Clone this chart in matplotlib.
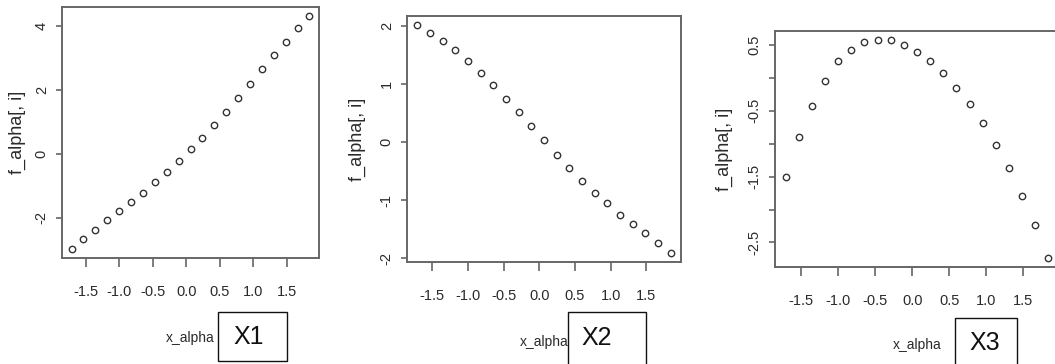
import matplotlib
matplotlib.use("Agg")
import matplotlib.pyplot as plt
from matplotlib.patches import Rectangle

# ---- data ----
x_alpha = [-1.713, -1.535, -1.357, -1.180, -1.002, -0.824, -0.646, -0.468, -0.291, -0.113,
           0.065, 0.243, 0.421, 0.598, 0.776, 0.954, 1.132, 1.310, 1.487, 1.665, 1.843]
f_x1 = [-2.97, -2.66, -2.39, -2.07, -1.78, -1.51, -1.22, -0.87, -0.57, -0.23,
        0.15, 0.49, 0.91, 1.32, 1.74, 2.20, 2.65, 3.10, 3.52, 3.93, 4.31]
f_x2 = [2.01, 1.88, 1.74, 1.58, 1.39, 1.19, 0.98, 0.74, 0.51, 0.27,
        0.03, -0.22, -0.45, -0.67, -0.88, -1.06, -1.25, -1.41, -1.57, -1.74, -1.91]
f_x3 = [-1.51, -0.90, -0.42, -0.04, 0.25, 0.42, 0.55, 0.58, 0.57, 0.50,
        0.39, 0.25, 0.07, -0.16, -0.40, -0.69, -1.02, -1.37, -1.79, -2.24, -2.74]

x_ticks = [-1.5, -1.0, -0.5, 0.0, 0.5, 1.0, 1.5]
x_tick_labels = ["-1.5", "-1.0", "-0.5", "0.0", "0.5", "1.0", "1.5"]
y_ticks = [[-2, 0, 2, 4], [-2, -1, 0, 1, 2], [0.5, 0, -0.5, -1, -1.5, -2, -2.5]]
y_tick_labels = [["-2", "0", "2", "4"], ["-2", "-1", "0", "1", "2"],
                 ["0.5", "", "-0.5", "", "-1.5", "", "-2.5"]]
series = [f_x1, f_x2, f_x3]
tags = ["X1", "X2", "X3"]
x_label = "x_alpha"
y_label = "f_alpha[, i]"

# ---- layout (pixels) ----
W, H = 1055, 364
axes_px = [(62, 319, 7, 258), (407, 681, 16, 262), (775, 1059, 31, 267)]
ylab_x = [17, 357, 724]
xlab_y = [338, 342, 345]
boxes = [(218, 312, 287, 361), (568, 312, 646, 366), (955, 318, 1017, 366)]
tag_xy = [(249, 337), (597, 338), (985, 343)]

SANS = ["Liberation Sans", "DejaVu Sans"]
TXT = "#2a2a2a"
SPINE = "#666666"

fig = plt.figure(figsize=(W / 100, H / 100), dpi=100)

for i in range(3):
    l, r, t, b = axes_px[i]
    ax = fig.add_axes([l / W, 1 - b / H, (r - l) / W, (b - t) / H])
    ax.plot(x_alpha, series[i], linestyle="none", marker="o", markersize=4.6,
            markerfacecolor="none", markeredgecolor="#333333", markeredgewidth=1.0,
            clip_on=False)
    ax.margins(x=0.04, y=0.04)
    for s in ax.spines.values():
        s.set_color(SPINE)
        s.set_linewidth(1.4)
    ax.set_xticks(x_ticks)
    ax.set_xticklabels(x_tick_labels, family=SANS, fontsize=10.5, color=TXT)
    ax.set_yticks(y_ticks[i])
    ax.set_yticklabels(y_tick_labels[i], family=SANS, fontsize=10.5, color=TXT,
                       rotation=90, va="center")
    ax.tick_params(axis="x", length=6.5, width=1.2, color=SPINE, pad=13)
    ax.tick_params(axis="y", length=4, width=1.2, color=SPINE, pad=5.5)

    ax.set_xlabel(x_label, family=SANS, fontsize=10, color=TXT)
    ax.xaxis.set_label_coords(0.5, (b - xlab_y[i]) / (b - t))
    ax.xaxis.label.set_va("center")
    ax.set_ylabel(y_label, family=SANS, fontsize=13, color=TXT)
    ax.yaxis.set_label_coords((ylab_x[i] - l) / (r - l), 0.5)
    ax.yaxis.label.set_va("center")

    x0, y0, x1, y1 = boxes[i]
    fig.patches.append(Rectangle((x0 / W, 1 - y1 / H), (x1 - x0) / W, (y1 - y0) / H,
                                 transform=fig.transFigure, fill=False,
                                 edgecolor="#111111", linewidth=1.0))
    tx, ty = tag_xy[i]
    fig.text(tx / W, 1 - ty / H, tags[i], family=SANS, fontsize=18,
             color="#111111", ha="center", va="center")

fig.savefig("out.png", dpi=100)
